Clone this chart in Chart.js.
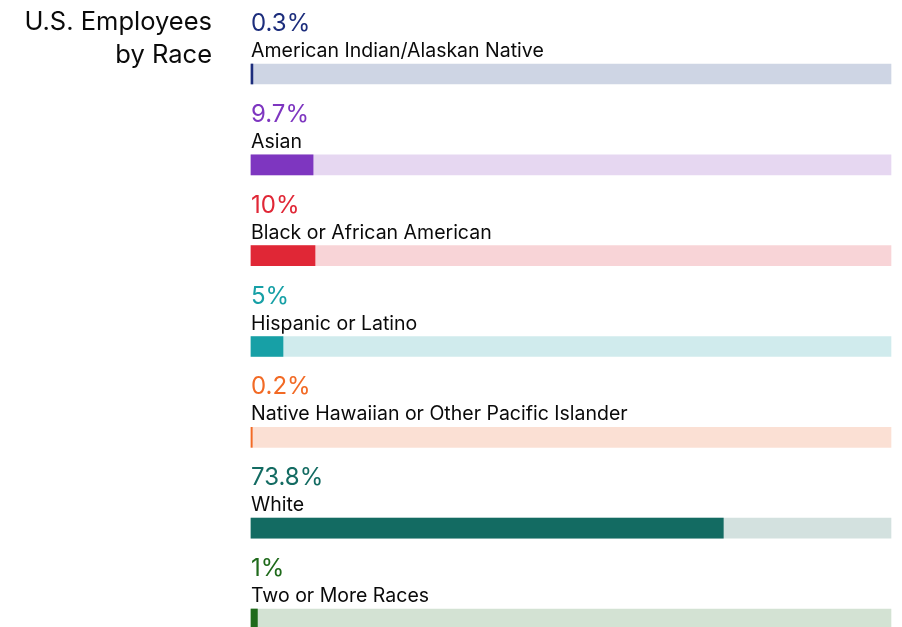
<!DOCTYPE html>
<html>
<head>
<meta charset="utf-8">
<script src="https://cdn.jsdelivr.net/npm/chart.js@4"></script>
<style>
  html, body { margin: 0; padding: 0; background: #fff; overflow: hidden; }
  #wrap { width: 902px; height: 627px; }
</style>
</head>
<body>
<div id="wrap"><canvas id="race-chart" width="902" height="627"></canvas></div>
<script>
const categories = [
    'American Indian/Alaskan Native',
    'Asian',
    'Black or African American',
    'Hispanic or Latino',
    'Native Hawaiian or Other Pacific Islander',
    'White',
    'Two or More Races'
];
const shares = [0.3, 9.7, 10, 5, 0.2, 73.8, 1];
const shareLabels = ['0.3%', '9.7%', '10%', '5%', '0.2%', '73.8%', '1%'];
const track = [100, 100, 100, 100, 100, 100, 100];

const barColors = ['#1c2d7c', '#7e36c0', '#e02736', '#17a0a6', '#f26a25', '#136b62', '#1f6a1b'];
const trackColors = ['#ced5e4', '#e6d7f1', '#f8d4d7', '#d0ebed', '#fbe0d4', '#d3e1df', '#d3e2d3'];

const labelPlugin = {
    id: 'rowLabels',
    afterDatasetsDraw(chart) {
        const ctx = chart.ctx;
        const x = chart.scales.x;
        const y = chart.scales.y;
        ctx.save();
        ctx.textBaseline = 'alphabetic';
        ctx.textAlign = 'left';
        categories.forEach(function (name, i) {
            const cy = y.getPixelForValue(i);
            ctx.font = '400 24px Inter';
            ctx.fillStyle = barColors[i];
            ctx.fillText(shareLabels[i], x.left, cy - 43);
            ctx.font = '400 19.5px Inter';
            ctx.fillStyle = '#0a0a0a';
            ctx.fillText(name, x.left, cy - 17);
        });
        // title on the left
        ctx.textAlign = 'right';
        ctx.font = '400 25.5px Inter';
        ctx.fillStyle = '#0a0a0a';
        ctx.fillText('U.S. Employees', 212, 30);
        ctx.fillText('by Race', 212, 63);
        ctx.restore();
    }
};

new Chart(document.getElementById('race-chart').getContext('2d'), {
    type: 'bar',
    data: {
        labels: categories,
        datasets: [
            {
                label: 'Share',
                data: shares,
                backgroundColor: barColors,
                barThickness: 20,
                grouped: false,
                order: 1,
                clip: false
            },
            {
                label: 'Track',
                data: track,
                backgroundColor: trackColors,
                barThickness: 20,
                grouped: false,
                order: 2,
                clip: false
            }
        ]
    },
    options: {
        indexAxis: 'y',
        responsive: false,
        animation: false,
        layout: { padding: { left: 251, right: 11, top: 74, bottom: 8 } },
        scales: {
            x: { display: false, min: 0, max: 100 },
            y: { display: false, offset: false }
        },
        plugins: {
            legend: { display: false },
            tooltip: { enabled: false }
        }
    },
    plugins: [labelPlugin]
});
</script>
</body>
</html>
